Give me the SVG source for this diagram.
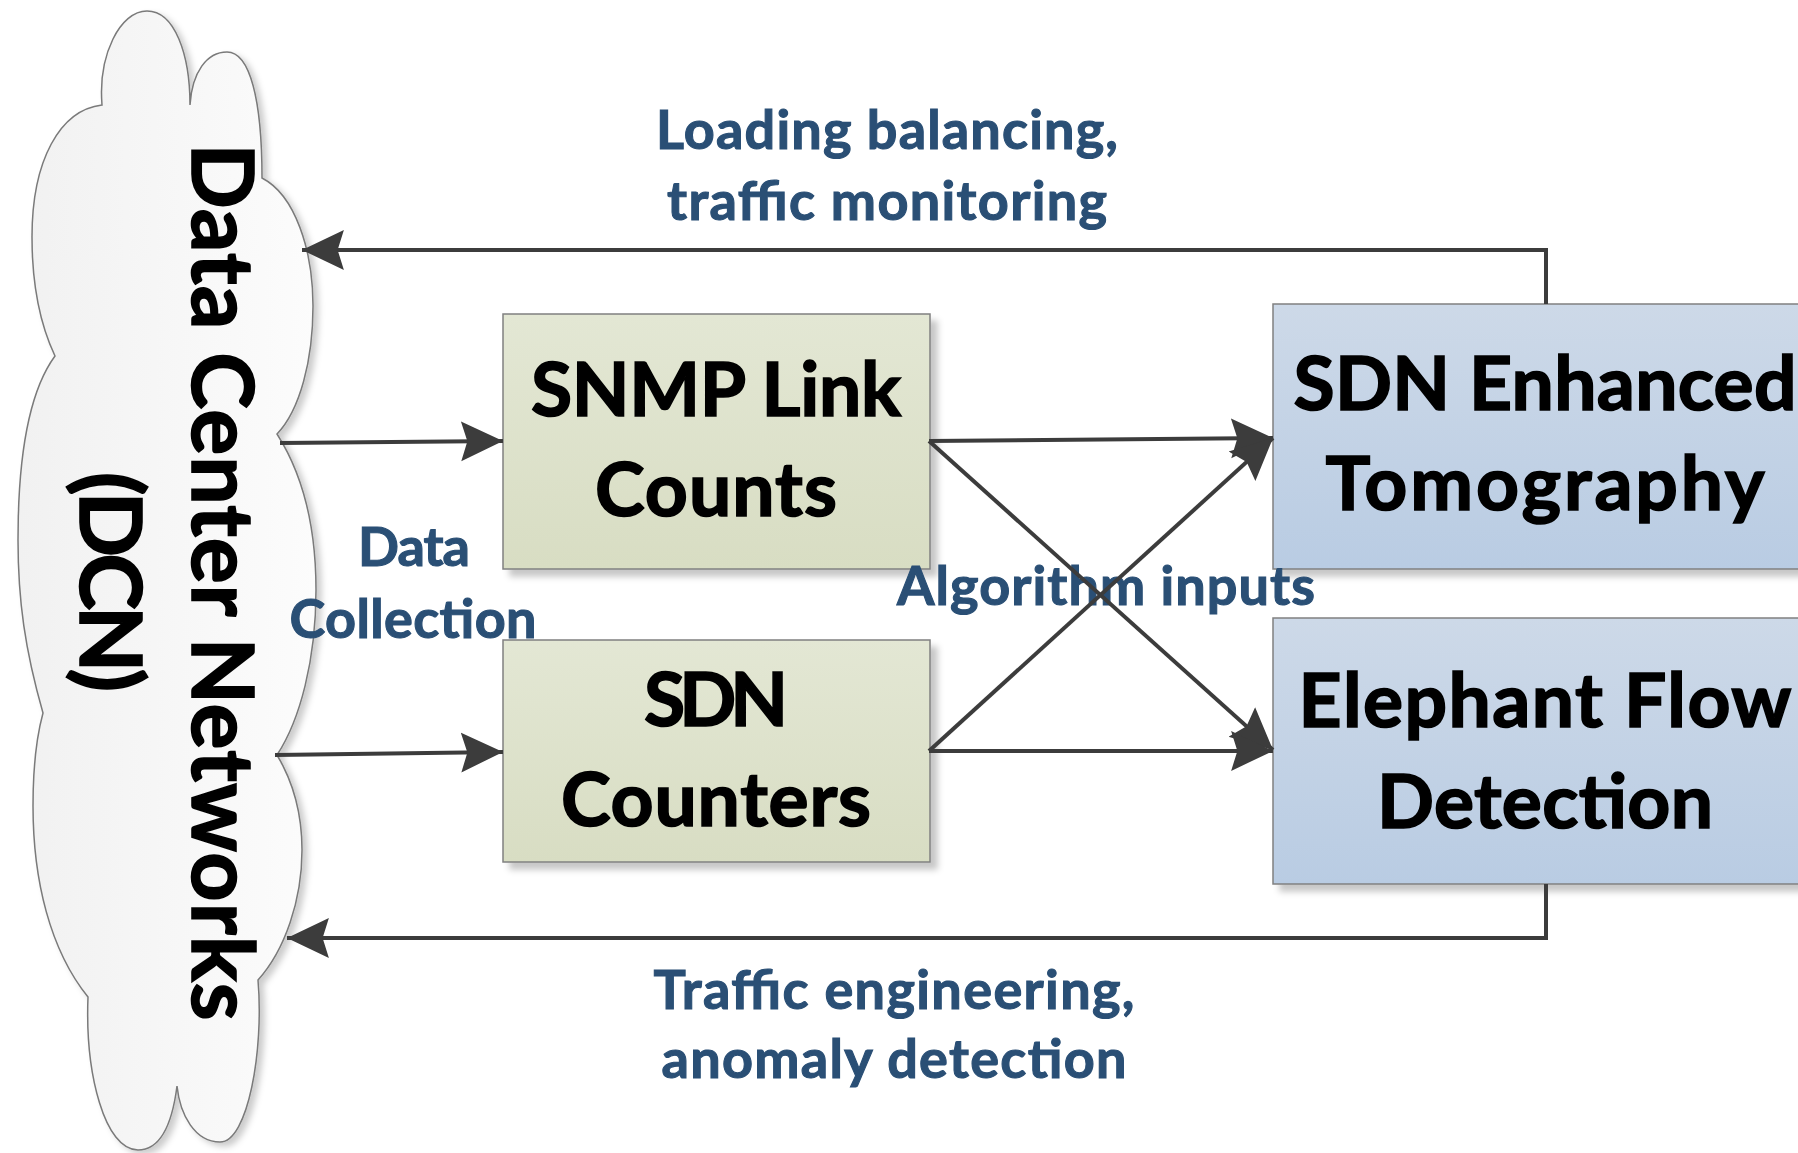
<svg xmlns="http://www.w3.org/2000/svg" width="1798" height="1153" viewBox="0 0 1798 1153">
<style>
.big{font-family:Lato,"Open Sans","Liberation Sans",sans-serif;font-weight:bold;fill:#000;stroke:#000;stroke-width:1.6;text-anchor:middle}
.box{font-size:75px}
.lbl{font-family:Lato,"Open Sans","Liberation Sans",sans-serif;font-weight:bold;font-size:54px;fill:#2a4f75;stroke:#2a4f75;stroke-width:1.1;text-anchor:middle}
.cn{fill:none;stroke:#3c3c3c;stroke-width:4}
</style>
<defs>
<linearGradient id="gGreen" x1="0" y1="0" x2="0" y2="1"><stop offset="0" stop-color="#e3e7d4"/><stop offset="1" stop-color="#d8ddc3"/></linearGradient>
<linearGradient id="gBlue" x1="0" y1="0" x2="0" y2="1"><stop offset="0" stop-color="#cdd9e8"/><stop offset="1" stop-color="#b9cce3"/></linearGradient>
<linearGradient id="gCloud" x1="0" y1="0" x2="1" y2="0"><stop offset="0" stop-color="#f1f1f1"/><stop offset="1" stop-color="#fcfcfc"/></linearGradient>
<filter id="sh" x="-10%" y="-10%" width="130%" height="130%"><feDropShadow dx="7" dy="7" stdDeviation="3" flood-color="#000" flood-opacity="0.22"/></filter>
<filter id="shc" x="-10%" y="-10%" width="130%" height="130%"><feDropShadow dx="5" dy="4" stdDeviation="3" flood-color="#000" flood-opacity="0.2"/></filter>
<marker id="ah" markerUnits="userSpaceOnUse" markerWidth="44" markerHeight="44" viewBox="0 0 42 40" refX="40" refY="19" orient="auto"><path d="M0,0 L40,19 L0,38 L6,19 Z" fill="#3c3c3c"/></marker>
</defs>

<g id="dcn">
<path filter="url(#shc)" fill="url(#gCloud)" stroke="#7a7a7a" stroke-width="1.5" d="M102,105 C98,55 120,11 147,11 C175,11 190,55 190,105 C192,72 207,52 227,52 C250,52 262,100 262,178 C295,195 313,250 313,306 C313,360 300,410 277,434 C300,470 316,520 316,590 C316,660 300,720 277,755 C292,780 302,810 302,850 C302,900 285,950 258,980 C264,1050 248,1142 220,1142 C195,1142 180,1115 177,1086 C172,1125 160,1150 138,1150 C105,1150 85,1075 88,997 C50,950 33,880 33,806 C33,760 37,735 43,713 C25,650 18,600 18,540 C18,450 30,390 55,356 C38,320 32,280 32,237 C32,160 60,110 102,105 Z"/>
<text class="big" font-size="86" textLength="877" transform="translate(192,582) rotate(90)">Data Center Networks</text>
<text class="big" font-size="86" textLength="220" transform="translate(80,582) rotate(90)">(DCN)</text>
</g>

<g id="snmp">
<rect x="503" y="314" width="427" height="255" fill="url(#gGreen)" stroke="#808080" stroke-width="1.5" filter="url(#sh)"/>
<text class="big box" x="716" y="416" textLength="370">SNMP Link</text>
<text class="big box" x="716" y="516" textLength="242">Counts</text>
</g>

<g id="sdncounters">
<rect x="503" y="640" width="427" height="222" fill="url(#gGreen)" stroke="#808080" stroke-width="1.5" filter="url(#sh)"/>
<text class="big box" x="716" y="726" textLength="144">SDN</text>
<text class="big box" x="716" y="826" textLength="310">Counters</text>
</g>

<g id="tomography">
<rect x="1273" y="304" width="560" height="265" fill="url(#gBlue)" stroke="#808080" stroke-width="1.5" filter="url(#sh)"/>
<text class="big box" x="1545" y="410" textLength="503">SDN Enhanced</text>
<text class="big box" x="1545" y="510" textLength="439">Tomography</text>
</g>

<g id="elephant">
<rect x="1273" y="618" width="560" height="266" fill="url(#gBlue)" stroke="#808080" stroke-width="1.5" filter="url(#sh)"/>
<text class="big box" x="1545" y="727" textLength="493">Elephant Flow</text>
<text class="big box" x="1545" y="828" textLength="336">Detection</text>
</g>

<g id="labels">
<text class="lbl" x="887" y="149" textLength="462">Loading balancing,</text>
<text class="lbl" x="887" y="220" textLength="440">traffic monitoring</text>
<text class="lbl" x="414" y="566" textLength="112">Data</text>
<text class="lbl" x="413" y="638" textLength="247">Collection</text>
<text class="lbl" x="1106" y="605" textLength="418">Algorithm inputs</text>
<text class="lbl" x="894" y="1009" textLength="481">Traffic engineering,</text>
<text class="lbl" x="894" y="1078" textLength="465">anomaly detection</text>
</g>

<g id="connectors">
<path class="cn" d="M1546,304 V250 H302" marker-end="url(#ah)"/>
<path class="cn" d="M1546,884 V938 H287" marker-end="url(#ah)"/>
<path class="cn" d="M280,443 L503,441" marker-end="url(#ah)"/>
<path class="cn" d="M275,755 L503,752" marker-end="url(#ah)"/>
<path class="cn" d="M929,441 L1273,438" marker-end="url(#ah)"/>
<path class="cn" d="M929,441 L1273,750" marker-end="url(#ah)"/>
<path class="cn" d="M929,751 L1273,438" marker-end="url(#ah)"/>
<path class="cn" d="M929,751 L1273,751" marker-end="url(#ah)"/>
</g>
</svg>
